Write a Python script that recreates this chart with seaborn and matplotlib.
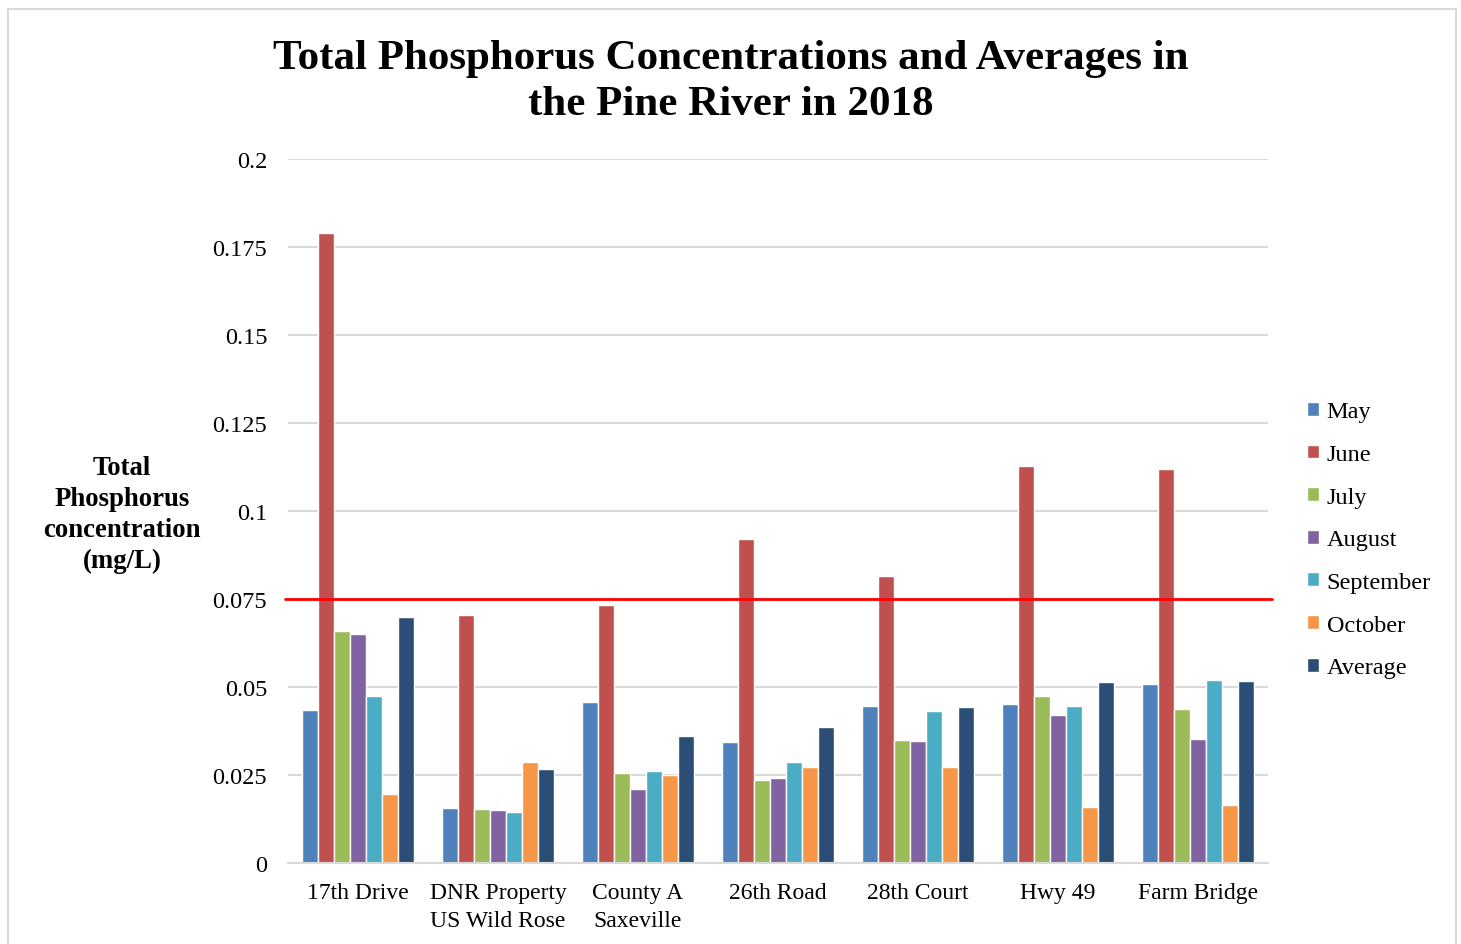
import matplotlib
matplotlib.use("Agg")
import matplotlib.pyplot as plt
from matplotlib.patches import Rectangle
import seaborn as sns
import pandas as pd

sites = ["17th Drive", "DNR Property\nUS Wild Rose", "County A\nSaxeville",
         "26th Road", "28th Court", "Hwy 49", "Farm Bridge"]
may = [0.0435, 0.0155, 0.0457, 0.0345, 0.0445, 0.0453, 0.0509]
june = [0.179, 0.0705, 0.0733, 0.092, 0.0816, 0.1129, 0.1118]
july = [0.0658, 0.0153, 0.0255, 0.0237, 0.0349, 0.0474, 0.0438]
august = [0.065, 0.0151, 0.0209, 0.0241, 0.0346, 0.042, 0.0352]
september = [0.0474, 0.0146, 0.0262, 0.0288, 0.0431, 0.0445, 0.0521]
october = [0.0196, 0.0286, 0.025, 0.0274, 0.0274, 0.016, 0.0165]
average = [0.070, 0.0266, 0.0361, 0.0385, 0.0443, 0.0513, 0.0517]
series_names = ["May", "June", "July", "August", "September", "October", "Average"]
threshold = 0.075
yticks = [0, 0.025, 0.05, 0.075, 0.1, 0.125, 0.15, 0.175, 0.2]
ytick_labels = ["0", "0.025", "0.05", "0.075", "0.1", "0.125", "0.15", "0.175", "0.2"]

colors = ["#4F81BD", "#C0504D", "#9BBB59", "#8064A2", "#4BACC6", "#F79646", "#2C4D75"]

rows = []
for name, vals in zip(series_names, [may, june, july, august, september, october, average]):
    for site, v in zip(sites, vals):
        rows.append({"Site": site, "Series": name, "TP": v})
df = pd.DataFrame(rows)

sns.set_theme(style="white")
plt.rcParams["font.family"] = ["Liberation Serif", "DejaVu Serif"]
plt.rcParams["text.color"] = "black"
plt.rcParams["xtick.color"] = "black"
plt.rcParams["ytick.color"] = "black"

fig = plt.figure(figsize=(14.61, 9.45), dpi=100)
ax = fig.add_axes([288 / 1461, 1 - 864 / 945, 980 / 1461, 704 / 945])

sns.barplot(data=df, x="Site", y="TP", hue="Series", order=sites,
            hue_order=series_names, palette=colors, saturation=1, width=0.8,
            edgecolor="white", linewidth=1.0, ax=ax, legend=True)

ax.set_ylim(0, 0.2)
ax.set_xlim(-0.5, len(sites) - 0.5)
ax.set_yticks(yticks)
ax.set_yticklabels(ytick_labels, fontsize=17.5)
ax.tick_params(axis="x", labelsize=17, length=0, pad=14)
ax.tick_params(axis="y", length=0, pad=15)
for lab in ax.get_xticklabels():
    lab.set_linespacing(1.38)
ax.yaxis.grid(True, color="#d9d9d9", linewidth=1.5)
ax.set_axisbelow(True)
for s in ["top", "right", "left"]:
    ax.spines[s].set_visible(False)
ax.spines["bottom"].set_color("#d9d9d9")
ax.spines["bottom"].set_linewidth(1.5)
ax.set_xlabel("")
ax.set_ylabel("")

ax.axhline(threshold, xmin=-0.003, xmax=1.004, color="#FF0000", linewidth=2, clip_on=False, zorder=5)

fig.text(122 / 1461, 1 - 515 / 945, "Total\nPhosphorus\nconcentration\n(mg/L)",
         ha="center", va="center", fontsize=19.3, fontweight="bold", linespacing=1.33)

fig.text(0.5, 1 - 82 / 945,
         "Total Phosphorus Concentrations and Averages in\nthe Pine River in 2018",
         ha="center", va="center", fontsize=31, fontweight="bold", linespacing=1.3)

handles, labels = ax.get_legend_handles_labels()
ax.legend(handles, labels, loc="center left", bbox_to_anchor=(1.03, 0.459),
          frameon=False, fontsize=17.5, handlelength=0.5, handleheight=0.5,
          handletextpad=0.3, labelspacing=0.89, borderaxespad=0)

fig.patches.append(Rectangle((8 / 1461, -0.02), 1448 / 1461, 1.02 - 10 / 945,
                             transform=fig.transFigure, fill=False,
                             edgecolor="#d9d9d9", linewidth=1.5))

fig.savefig("out.png", dpi=100, facecolor="white")
